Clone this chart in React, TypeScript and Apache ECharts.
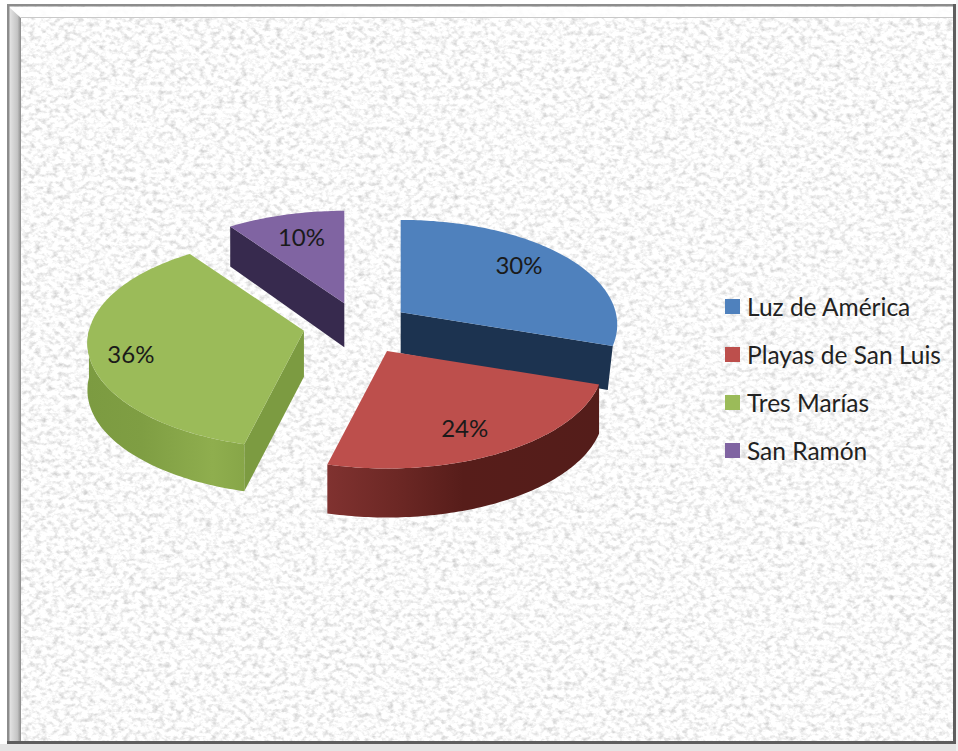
import React, { useEffect, useRef } from "react";
import * as echarts from "echarts";

const names = ["Luz de América", "Playas de San Luis", "Tres Marías", "San Ramón"];
const values = [30, 24, 36, 10];
const topColors = ["#4f81bd", "#bd4f4c", "#9bbb59", "#8064a2"];
const labelRadii = [0.68, 0.76, 0.81, 0.66];
const labelNudges = [[0, -4], [-1, 3], [-2, 6], [1, 2]];
const stackOrder = [3, 4, 2, 1];
const nudges = [[-1, -1], [3, 1], [-1, -2], [3, -1]];

const W = 958, H = 751;
const CX = 358, CY = 328, EX = 54, EY = 25, RX = 215, RY = 105, K = 0.12, DEPTH = 44;
const rad = (d: number) => (d * Math.PI) / 180;
const total = values.reduce((a, b) => a + b, 0);

const noise = `<svg xmlns='http://www.w3.org/2000/svg' width='${W}' height='${H}'><filter id='n' x='0' y='0' width='100%' height='100%'><feTurbulence type='fractalNoise' baseFrequency='0.17 0.22' numOctaves='3' seed='7'/><feColorMatrix values='0 0 0 0 0.62 0 0 0 0 0.62 0 0 0 0 0.62 2.2 0 0 0 -0.98'/></filter><rect width='100%' height='100%' fill='#ffffff'/><rect width='100%' height='100%' filter='url(#n)'/></svg>`;

function rim(ax: number, ay: number, deg: number, extra = 0): number[] {
  const s = 1 + K * -Math.cos(rad(deg));
  return [ax + Math.sin(rad(deg)) * RX * s, ay - Math.cos(rad(deg)) * RY * s + extra];
}
function arc(ax: number, ay: number, from: number, to: number, extra = 0): number[][] {
  const pts: number[][] = [];
  const n = Math.max(2, Math.ceil(Math.abs(to - from)));
  for (let i = 0; i <= n; i++) pts.push(rim(ax, ay, from + ((to - from) * i) / n, extra));
  return pts;
}
const hGrad = (stops: [number, string][]) =>
  new echarts.graphic.LinearGradient(0, 0, 1, 0, stops.map(([offset, color]) => ({ offset, color })));

function sliceRender(index: number) {
  return (_params: any, api: any) => {
    const before = values.slice(0, index).reduce((a, b) => a + b, 0);
    const from = (before / total) * 360;
    const to = ((before + api.value(0)) / total) * 360;
    const mid = (from + to) / 2;
    const ax = CX + Math.sin(rad(mid)) * EX + nudges[index][0];
    const ay = CY - Math.cos(rad(mid)) * EY + nudges[index][1];
    const children: any[] = [];
    const poly = (points: number[][], fill: any) =>
      children.push({ type: "polygon", shape: { points }, style: { fill, stroke: null } });

    // walls
    if (index === 0) {
      const a = rim(ax, ay, to);
      poly([[ax, ay], a, [a[0] - 5, a[1] + DEPTH], [ax, ay + DEPTH - 3]], "#1c3350");
    }
    if (index === 1) {
      const front = arc(ax, ay, from, to);
      poly([...front, ...arc(ax, ay, to, from, DEPTH + 5)],
        hGrad([[0, "#803230"], [0.25, "#6d2825"], [0.5, "#571d1a"], [1, "#541d1a"]]));
    }
    if (index === 2) {
      const a = rim(ax, ay, from);
      poly([[ax, ay], a, [a[0], a[1] + DEPTH + 3], [ax, ay + DEPTH + 2]], "#7c9b41");
      const front = arc(ax, ay, from, 270);
      poly([...front, ...arc(ax, ay, 270, from, DEPTH + 3)],
        hGrad([[0, "#7c9b41"], [0.35, "#7f9e43"], [0.8, "#8fae4e"], [1, "#87a648"]]));
    }
    if (index === 3) {
      const a = rim(ax, ay, from);
      poly([[ax, ay], a, [a[0], a[1] + DEPTH - 4], [ax, ay + DEPTH]], "#372a4e");
    }
    // top face
    poly([[ax, ay], ...arc(ax, ay, from, to)], topColors[index]);
    // value label
    const r = labelRadii[index];
    children.push({
      type: "text",
      x: ax + Math.sin(rad(mid)) * RX * r + labelNudges[index][0],
      y: ay - Math.cos(rad(mid)) * RY * r * 1.05 + labelNudges[index][1],
      style: {
        text: `${Math.round((api.value(0) / total) * 100)}%`,
        fill: "#1a1a1a",
        font: '24px Lato, "Open Sans", sans-serif',
        align: "center",
        verticalAlign: "middle",
      },
    });
    return { type: "group", children };
  };
}

export default function App() {
  const ref = useRef<HTMLDivElement>(null);
  useEffect(() => {
    document.body.style.margin = "0";
    const chart = echarts.init(ref.current!, undefined, { renderer: "svg" });
    const frame = { silent: true };
    chart.setOption({
      animation: false,
      backgroundColor: "transparent",
      legend: {
        orient: "vertical",
        left: 725,
        top: 293,
        padding: 0,
        icon: "rect",
        itemWidth: 15,
        itemHeight: 15,
        itemGap: 21,
        selectedMode: false,
        data: names,
        textStyle: { fontFamily: 'Lato, "Open Sans", sans-serif', fontSize: 24.5, color: "#222", lineHeight: 27, padding: [0, 0, 0, 2] },
      },
      graphic: [
        { type: "rect", ...frame, z: -1, shape: { x: 0, y: 0, width: W, height: 5 }, style: { fill: "#ffffff" } },
        { type: "rect", ...frame, z: -1, shape: { x: 0, y: 0, width: 7, height: H }, style: { fill: "#ffffff" } },
        { type: "rect", ...frame, z: -1, shape: { x: 8, y: 7, width: W - 12, height: 11 }, style: { fill: "rgba(255,255,255,0.9)" } },
        { type: "line", ...frame, z: -1, shape: { x1: 21, y1: 17.5, x2: 953, y2: 17.5 }, style: { stroke: "#c9c9c9", lineWidth: 1 } },
        {
          type: "polygon", ...frame, z: -1, shape: { points: [[9, 7], [21, 18], [21, 741], [9, 741]] },
          style: { fill: new echarts.graphic.LinearGradient(0, 0, 1, 0, [{ offset: 0, color: "#e6e6e6" }, { offset: 0.7, color: "#c4c4c4" }, { offset: 1, color: "#8a8a8a" }]) },
        },
        { type: "rect", ...frame, z: -1, shape: { x: 7, y: 4, width: 949, height: 2.5 }, style: { fill: "#8c8c8c" } },
        { type: "rect", ...frame, z: -1, shape: { x: 7, y: 4, width: 2.5, height: 740 }, style: { fill: "#8c8c8c" } },
        { type: "rect", ...frame, z: -1, shape: { x: 953, y: 4, width: 3, height: 741 }, style: { fill: "#5e5e5e" } },
        { type: "rect", ...frame, z: -1, shape: { x: 7, y: 741, width: 949, height: 3 }, style: { fill: "#5e5e5e" } },
        { type: "rect", ...frame, z: -1, shape: { x: 0, y: 744, width: W, height: 7 }, style: { fill: "#e4e4e4" } },
        { type: "rect", ...frame, z: -1, shape: { x: 956, y: 0, width: 2, height: H }, style: { fill: "#f2f2f2" } },
      ],
      series: names.map((name, i) => ({
        type: "custom",
        name,
        coordinateSystem: "none",
        z: stackOrder[i],
        itemStyle: { color: topColors[i] },
        data: [[values[i]]],
        renderItem: sliceRender(i),
        silent: true,
      })),
    });
    return () => chart.dispose();
  }, []);
  return (
    <div
      ref={ref}
      style={{
        width: W,
        height: H,
        backgroundColor: "#fff",
        backgroundImage: `url("data:image/svg+xml,${encodeURIComponent(noise)}")`,
      }}
    />
  );
}
